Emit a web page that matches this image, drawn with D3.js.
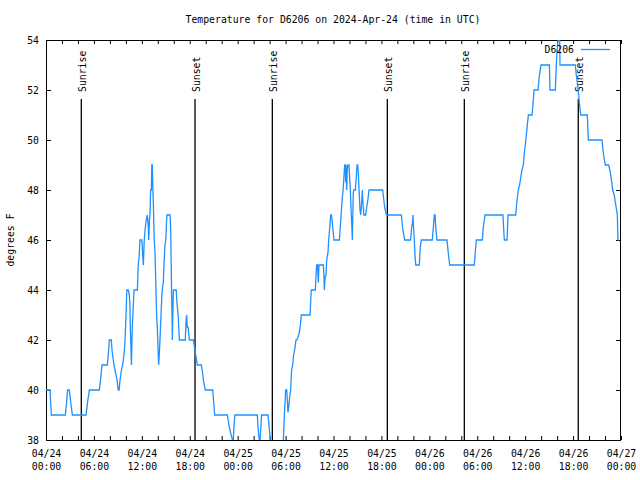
<!DOCTYPE html>
<html><head><meta charset="utf-8">
<script src="https://cdn.jsdelivr.net/npm/d3@7"></script>
<style>
body{margin:0;background:#fff}
svg{display:block}
text{font-family:"DejaVu Sans Mono","Liberation Mono",monospace;font-size:9.8px;fill:#000}
</style>
</head><body>
<svg id="c" width="640" height="480"></svg>
<script>
// [hours since 2024-04-24 00:00 UTC, temperature °F]
const readings = [
[0.00,40],[0.50,40],[0.67,39],[2.42,39],[2.58,39.5],[2.70,40],[2.92,40],[3.10,39.5],[3.30,39],
[5.01,39],[5.20,39.5],[5.43,40],[6.68,40],[6.85,40.5],[7.01,41],[7.68,41],[7.85,41.6],[7.93,42],[8.18,42],
[8.26,41.6],[8.51,41],[8.70,40.7],[8.90,40.4],[9.05,40],[9.15,40],[9.27,40.4],[9.45,40.8],[9.60,41],
[9.80,41.5],[9.90,42],[10.02,43],[10.12,44],[10.30,44],[10.43,43.8],[10.50,43.5],[10.56,42.5],[10.70,41],
[10.80,42.5],[10.95,43.5],[11.02,44],[11.44,44],[11.55,45],[11.65,45.3],[11.77,46],[11.98,46],[12.05,45.8],
[12.12,45.3],[12.19,45],[12.30,46],[12.44,46.5],[12.55,46.8],[12.69,47],[12.80,46.6],[12.86,46],[12.95,46.8],
[13.02,47],[13.10,48],[13.19,48],[13.25,49],[13.31,49],[13.38,48],[13.44,47.5],[13.55,46],[13.65,45.5],
[13.77,44],[13.85,43],[13.94,42.5],[14.05,41.5],[14.10,41],[14.20,41.5],[14.27,42],[14.35,42.6],[14.44,43.3],
[14.55,44],[14.69,44.3],[14.80,45.2],[14.90,45.8],[15.00,46],[15.10,46.8],[15.15,47],[15.53,47],[15.61,46.5],
[15.68,45],[15.72,44],[15.78,43],[15.82,42],[15.88,43],[15.95,44],[16.30,44],[16.40,43.5],[16.55,43],[16.70,42],
[17.44,42],[17.55,42.8],[17.61,43],[17.70,42.5],[17.80,42.5],[17.95,42],[18.45,42],[18.55,41.8],[18.70,41.5],
[18.95,41],[19.45,41],[19.60,40.7],[19.75,40.3],[19.95,40],[20.87,40],[21.00,39.5],[21.12,39],[22.71,39],
[22.90,38.6],[23.10,38.3],[23.35,38],[23.45,38],[23.55,38.6],[23.65,39],
[26.46,39],[26.55,38.5],[26.70,38],[26.80,38],[26.90,38.5],[27.00,39],[27.80,39],[27.95,38.5],[28.10,38],
[28.25,37],[29.60,37],[29.72,38],[29.89,39.3],[29.95,39.6],[30.00,40],[30.14,40],[30.22,39.6],[30.30,39.1],
[30.39,39.3],[30.50,39.7],[30.64,40],[30.75,40.8],[30.89,41],[31.00,41.4],[31.14,41.6],[31.30,42],[31.39,42],
[31.55,42.1],[31.72,42.3],[31.85,42.6],[31.97,43],[33.06,43],[33.15,43.6],[33.22,44],[33.72,44],[33.80,44.5],
[33.89,45],[34.00,45],[34.10,44.3],[34.18,45],[34.73,45],[34.80,44.6],[34.85,44],[34.95,44.5],[35.06,44.6],
[35.15,45.2],[35.31,45.5],[35.40,46],[35.50,46.4],[35.56,46.6],[35.65,47],[35.73,47],[35.82,46.8],[35.90,46.5],
[36.00,46.2],[36.06,46],[36.73,46],[36.85,46.5],[36.95,47],[37.10,47.7],[37.20,48],[37.30,48.5],[37.40,49],
[37.47,49],[37.52,48.3],[37.58,49],[37.65,48],[37.72,48.8],[37.80,49],[37.94,49],[38.02,48.5],[38.11,48],
[38.20,47.2],[38.30,46.5],[38.36,46],[38.42,47],[38.48,47.9],[38.55,48],[38.73,48],[38.85,48.5],[38.95,49],
[39.03,49],[39.10,48.7],[39.20,48],[39.32,47.2],[39.40,47],[39.48,47.3],[39.55,47.6],[39.61,48],[39.68,47.5],
[39.74,47.3],[39.80,47],[40.03,47],[40.15,47.3],[40.30,47.6],[40.45,48],[42.16,48],[42.30,47.6],[42.41,47.3],
[42.55,47.1],[42.66,47],[44.49,47],[44.65,46.5],[44.80,46.2],[44.91,46],[45.66,46],[45.78,46.5],[45.90,46.7],
[45.95,47],[46.02,46.5],[46.12,46],[46.20,45.4],[46.30,45],[46.75,45],[46.85,45.7],[47.00,46],
[48.37,46],[48.50,46.5],[48.63,47],[48.72,47],[48.80,46.5],[48.96,46],[50.21,46],[50.40,45.4],[50.55,45],
[53.63,45],[53.75,45.5],[53.88,46],[54.64,46],[54.75,46.5],[54.89,46.8],[54.97,47],[57.22,47],[57.30,46.5],
[57.39,46],[57.73,46],[57.85,47],[58.81,47],[58.95,47.5],[59.14,48],[59.30,48.2],[59.45,48.5],[59.60,48.8],
[59.77,49],[59.90,49.5],[60.02,49.8],[60.15,50.2],[60.27,50.6],[60.40,51],[60.86,51],[61.00,51.5],[61.11,52],
[61.61,52],[61.75,52.5],[61.98,53],[63.03,53],[63.11,52],[63.78,52],[63.90,53],[64.00,53.6],[64.11,54],
[64.32,54],[64.36,53],[66.28,53],[66.40,52.6],[66.53,52.3],[66.70,51.8],[66.78,51.5],[66.95,51],[67.78,51],
[67.91,50],[69.62,50],[69.75,49.6],[69.87,49.3],[70.04,49],[70.46,49],[70.60,48.8],[70.71,48.6],[70.85,48.3],
[70.96,48],[71.15,47.8],[71.29,47.5],[71.45,47.2],[71.54,47],[71.62,46],[71.71,46]
];
const sunriseHours = [4.42, 28.34, 52.38];
const sunsetHours  = [18.66, 42.74, 66.65];
const yTickValues  = [38, 40, 42, 44, 46, 48, 50, 52, 54];
const xLabelHours  = [0, 6, 12, 18, 24, 30, 36, 42, 48, 54, 60, 66, 72];
const xTickHours   = d3.range(0, 73, 2);
const seriesName = "D6206";
const titleText = "Temperature for D6206 on 2024-Apr-24 (time in UTC)";
const yLabelText = "degrees F";

const start = Date.UTC(2024, 3, 24);
const toDate = h => new Date(start + h * 3600e3);
const L = 46, R = 621, T = 40, B = 440;

const svg = d3.select("#c");
const x = d3.scaleUtc().domain([toDate(0), toDate(72)]).range([L, R]);
const y = d3.scaleLinear().domain([38, 54]).range([B, T]);

svg.append("defs").append("clipPath").attr("id", "plot")
  .append("rect").attr("x", L).attr("y", T).attr("width", R - L).attr("height", B - T);

// tick marks (inward, mirrored)
svg.append("g").attr("transform", `translate(0,${B})`)
  .call(d3.axisBottom(x).tickValues(xTickHours.map(toDate)).tickSize(-4).tickFormat(""))
  .call(g => g.select(".domain").remove());
svg.append("g").attr("transform", `translate(0,${T})`)
  .call(d3.axisTop(x).tickValues(xTickHours.map(toDate)).tickSize(-4).tickFormat(""))
  .call(g => g.select(".domain").remove());
svg.append("g").attr("transform", `translate(${R},0)`)
  .call(d3.axisRight(y).tickValues(yTickValues).tickSize(-5).tickFormat(""))
  .call(g => g.select(".domain").remove());
const yAx = svg.append("g").attr("transform", `translate(${L},0)`)
  .call(d3.axisLeft(y).tickValues(yTickValues).tickSize(-5).tickPadding(7).tickFormat(d3.format("d")))
  .call(g => g.select(".domain").remove());
yAx.selectAll("text").attr("font-size", null).attr("font-family", null);
yAx.attr("font-size", null).attr("font-family", null);

// x labels, two lines
const fmtD = d3.utcFormat("%m/%d"), fmtT = d3.utcFormat("%H:%M");
const xAx = svg.append("g").attr("transform", `translate(0,${B})`)
  .call(d3.axisBottom(x).tickValues(xLabelHours.map(toDate)).tickSize(0).tickPadding(10).tickFormat(""))
  .call(g => g.select(".domain").remove());
xAx.attr("font-size", null).attr("font-family", null);
xAx.selectAll(".tick text").each(function(d) {
  const t = d3.select(this);
  t.append("tspan").attr("x", 0).text(fmtD(d));
  t.append("tspan").attr("x", 0).attr("dy", "1.33em").text(fmtT(d));
});
svg.selectAll(".tick line").attr("stroke", "#000");

// border
svg.append("rect").attr("x", L + 0.5).attr("y", T + 0.5)
  .attr("width", R - L - 1).attr("height", B - T)
  .attr("fill", "none").attr("stroke", "#000").attr("stroke-width", 1);

// sunrise / sunset
const events = sunriseHours.map(h => ({h, label: "Sunrise"}))
  .concat(sunsetHours.map(h => ({h, label: "Sunset"})));
const ev = svg.append("g").selectAll("g").data(events).join("g");
ev.append("line")
  .attr("x1", d => x(toDate(d.h))).attr("x2", d => x(toDate(d.h)))
  .attr("y1", 99).attr("y2", B)
  .attr("stroke", "#000").attr("stroke-width", 1.3);
ev.append("text")
  .attr("transform", d => `translate(${x(toDate(d.h)) + 5},92) rotate(-90)`)
  .attr("text-anchor", "start")
  .text(d => d.label);

// data line
svg.append("path").datum(readings)
  .attr("clip-path", "url(#plot)")
  .attr("fill", "none").attr("stroke", "#1e90ff").attr("stroke-width", 1.3)
  .attr("d", d3.line().x(d => x(toDate(d[0]))).y(d => y(d[1])));

// legend
svg.append("text").attr("x", 574).attr("y", 53).attr("text-anchor", "end").text(seriesName);
svg.append("line").attr("x1", 581).attr("x2", 610).attr("y1", 49.5).attr("y2", 49.5)
  .attr("stroke", "#1e90ff").attr("stroke-width", 1.3);

// title and y label
svg.append("text").attr("x", 333).attr("y", 23).attr("text-anchor", "middle").text(titleText);
svg.append("text").attr("transform", "translate(14,240) rotate(-90)")
  .attr("text-anchor", "middle").text(yLabelText);
</script>
</body></html>
